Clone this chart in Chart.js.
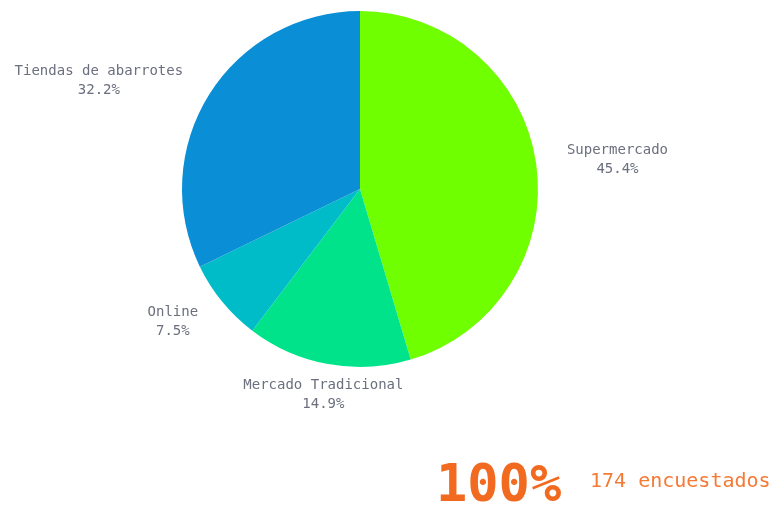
<!DOCTYPE html>
<html>
<head>
<meta charset="utf-8">
<script src="https://cdn.jsdelivr.net/npm/chart.js@4"></script>
<style>
  html, body { margin: 0; padding: 0; background: #fff; }
  #wrap { position: relative; width: 784px; height: 506px; overflow: hidden; }
  #pie { position: absolute; left: 0; top: 0; }
  #total { position: absolute; left: 436px; top: 453px; font: bold 52px "DejaVu Sans Mono", monospace; color: #f26a1f; letter-spacing: 0px; }
  #count { position: absolute; left: 590px; top: 468px; font: 20px "DejaVu Sans Mono", monospace; color: #f47a35; }
</style>
</head>
<body>
<div id="wrap">
  <canvas id="pie" width="784" height="506"></canvas>
  <div id="total">100%</div>
  <div id="count">174 encuestados</div>
</div>
<script>
// survey data
var categories = ["Supermercado", "Mercado Tradicional", "Online", "Tiendas de abarrotes"];
var responses = [79, 26, 13, 56];
var sliceColors = ['#6fff00', '#00e38a', '#00bcc8', '#0a8ed5'];

var totalResponses = responses.reduce(function (a, b) { return a + b; }, 0);

// labels outside the slices, two lines, no leader lines
var outsideLabels = {
  id: 'outsideLabels',
  afterDatasetsDraw: function (chart) {
    var ctx = chart.ctx;
    var meta = chart.getDatasetMeta(0);
    ctx.save();
    ctx.font = '14px "DejaVu Sans Mono", monospace';
    ctx.fillStyle = '#6b6f7e';
    ctx.textBaseline = 'middle';
    meta.data.forEach(function (arc, i) {
      var p = arc.getProps(['x', 'y', 'startAngle', 'endAngle', 'outerRadius'], true);
      var mid = (p.startAngle + p.endAngle) / 2;
      var cos = Math.cos(mid), sin = Math.sin(mid);
      var dist = p.outerRadius + 26;
      var ax = p.x + cos * dist;
      var ay = p.y + sin * dist + Math.max(0, sin) * 5;
      var line1 = categories[i];
      var line2 = (responses[i] / totalResponses * 100).toFixed(1) + '%';
      var w = Math.max(ctx.measureText(line1).width, ctx.measureText(line2).width);
      var cx;
      if (cos > 0.3) cx = ax + 5 + w / 2;
      else if (cos < -0.3) cx = ax - 4 - w / 2;
      else cx = ax;
      ctx.textAlign = 'center';
      ctx.fillText(line1, cx, ay - 9.5);
      ctx.fillText(line2, cx, ay + 9.5);
    });
    ctx.restore();
  }
};

var pieChart = new Chart(document.getElementById('pie'), {
  type: 'pie',
  data: {
    labels: categories,
    datasets: [{
      data: responses,
      backgroundColor: sliceColors,
      borderWidth: 0
    }]
  },
  options: {
    responsive: false,
    animation: false,
    radius: 178,
    layout: {
      padding: { left: 0, right: 64, top: 0, bottom: 128 }
    },
    plugins: {
      legend: { display: false },
      tooltip: { enabled: false }
    }
  },
  plugins: [outsideLabels]
});
</script>
</body>
</html>
